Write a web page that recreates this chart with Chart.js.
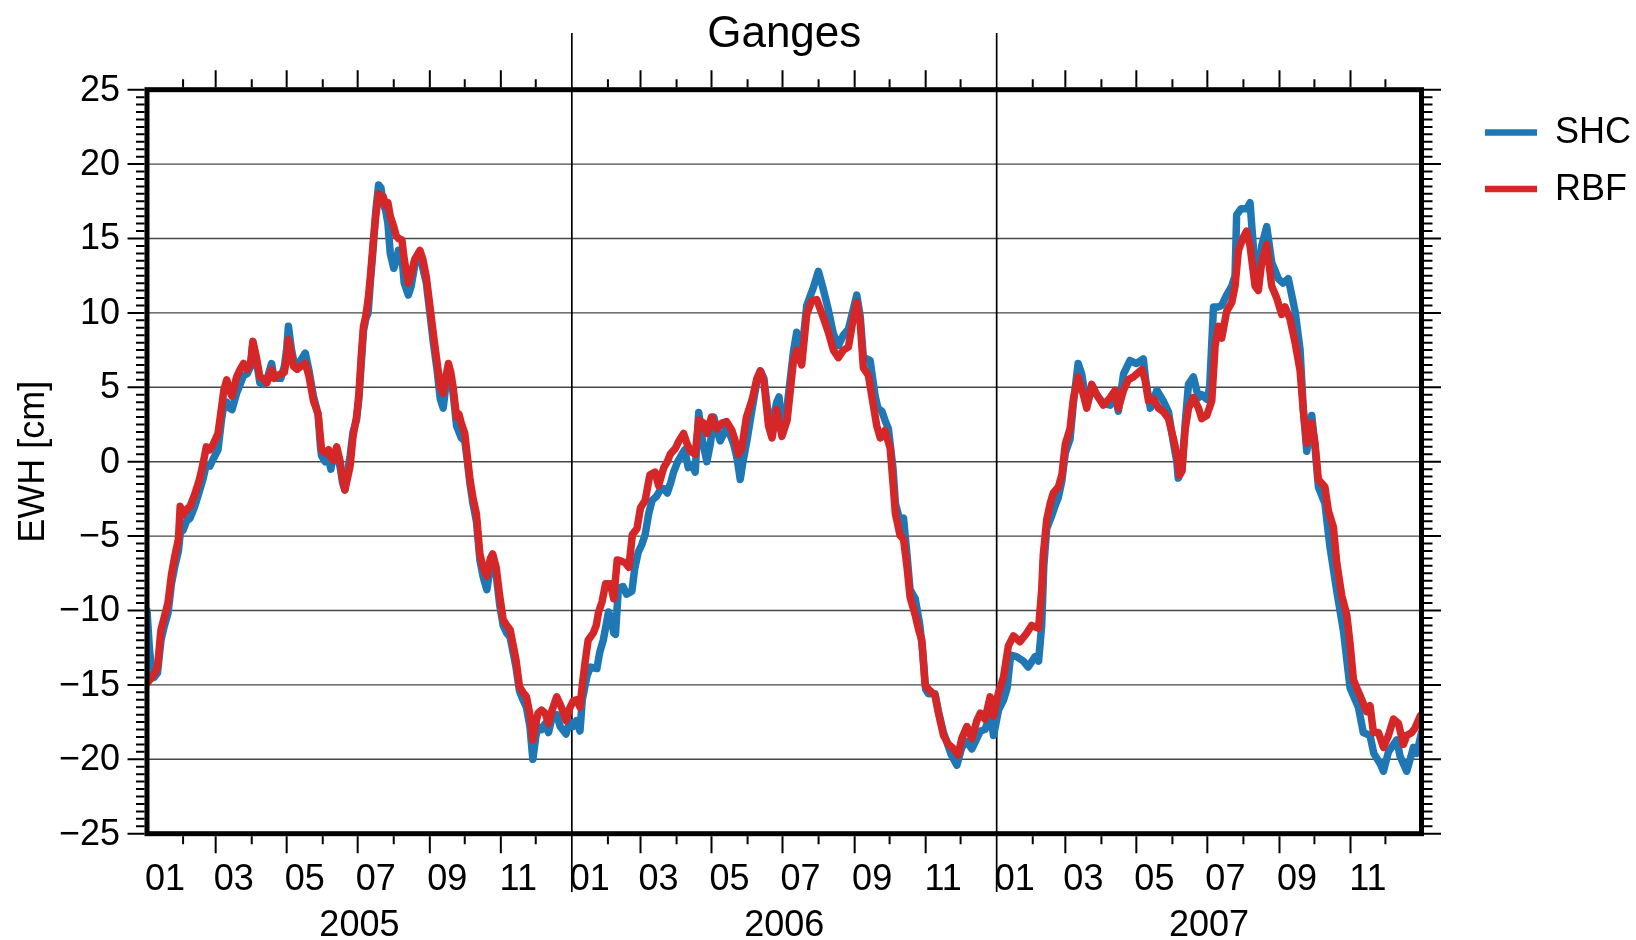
<!DOCTYPE html>
<html>
<head>
<meta charset="utf-8">
<title>Ganges EWH</title>
<script src="https://cdn.jsdelivr.net/npm/chart.js@4/dist/chart.umd.min.js"></script>
<style>
  html, body { margin: 0; padding: 0; background: #ffffff; }
  #wrap { width: 1636px; height: 940px; }
</style>
</head>
<body>
<div id="wrap"><canvas id="c" width="1636" height="940"></canvas></div>
<script>
// Equivalent water height [cm] over the Ganges basin, [day of year, value] pairs.
const shc2005 = [[0,-10.0],[2,-12.5],[4,-14.0],[6,-14.5],[9,-14.2],[12,-12.0],[15,-11.0],[18,-10.2],[21,-8.2],[24,-7.0],[27,-6.0],[29,-4.5],[31,-4.6],[34,-4.0],[37,-3.8],[41,-3.0],[45,-2.0],[48,-1.2],[51,-0.2],[54,-0.3],[57,0.2],[61,0.8],[64,2.8],[66,3.8],[68.5,4.0],[71,3.6],[73,3.5],[77,4.6],[80,5.2],[83,5.8],[86,5.9],[89,6.4],[91,8.0],[94,6.8],[97,5.3],[100,5.2],[103,5.5],[107,6.6],[109,5.7],[112,5.6],[115,5.6],[118,6.4],[120,7.6],[121.5,9.1],[124,7.6],[126,6.8],[129,6.6],[132,6.8],[136,7.3],[139,6.2],[143,4.4],[147,3.2],[149,1.0],[150,0.4],[153,0.0],[156,0.2],[158,-0.5],[160,0.5],[163,0.6],[166,-0.4],[168,-1.4],[170,-1.9],[172,-0.8],[174.5,0.4],[177,2.0],[180,2.8],[182,4.2],[184,6.5],[186,8.8],[188,9.6],[190,10.0],[192,12.2],[194.5,14.5],[196.5,16.8],[199,18.6],[201,18.4],[203,17.3],[205,16.9],[207,16.0],[209,14.0],[212,13.0],[214,13.5],[216,14.2],[219,13.8],[221,12.0],[224.5,11.2],[227,11.8],[230,13.2],[234.5,14.0],[237,13.0],[240,12.0],[243,10.0],[246,8.0],[249,6.3],[252,4.2],[254.5,3.6],[257,5.3],[259,6.0],[261,5.6],[263,4.6],[266,2.4],[268,2.0],[270,1.6],[273,1.4],[275,0.2],[277.5,-1.5],[280,-2.8],[283,-4.0],[286,-6.6],[289,-7.8],[292,-8.6],[295,-7.0],[297,-6.8],[300,-7.6],[303,-9.6],[306,-11.0],[309,-11.5],[312,-11.8],[315,-13.0],[317,-13.8],[320,-15.4],[323,-16.0],[326,-16.5],[329,-17.8],[331.5,-20.0],[334,-18.5],[336,-17.8],[339,-18.0],[342,-17.6],[345,-18.2],[348,-17.2],[352,-17.0],[355,-17.8],[357,-18.0],[360,-18.3],[363,-17.5]];
const shc2006 = [[1,-17.8],[4,-17.4],[7,-18.1],[9,-16.0],[13,-14.4],[16,-13.8],[21.5,-13.9],[24,-12.8],[27,-12.0],[31.5,-10.1],[34,-10.6],[36,-11.5],[37.5,-11.6],[40,-8.5],[44,-8.4],[47,-8.9],[51.6,-8.7],[54,-7.2],[57,-6.1],[60,-5.6],[63,-4.9],[66,-3.5],[69,-2.6],[73,-2.3],[76,-1.9],[79,-1.8],[82,-2.1],[85,-1.4],[87.4,-0.7],[91,0.0],[94.6,0.5],[97,0.8],[100,-0.4],[103,-0.2],[106,-0.7],[109,3.3],[112,1.5],[116,0.0],[119,1.2],[122,3.0],[125,2.0],[127.5,1.4],[130,1.8],[133,2.35],[136,1.8],[139,1.2],[142,0.2],[144.7,-1.2],[147,0.0],[150.4,1.4],[155,3.6],[159,5.4],[162,6.1],[165,5.6],[169,3.0],[172,2.4],[176,4.0],[178,4.35],[181,1.9],[185,3.75],[190.4,7.4],[193.2,8.7],[197.5,7.2],[201.8,10.5],[207.5,11.7],[211.8,12.8],[216,11.6],[220.4,10.2],[224.7,8.6],[229,7.8],[233.3,8.5],[237.6,8.9],[242,10.3],[244.8,11.2],[247.7,9.8],[250.5,7.0],[256.3,6.8],[260.6,4.4],[263,3.6],[266.3,3.4],[269,2.8],[272,2.2],[276,-0.5],[278,-2.8],[282,-4.0],[285,-3.8],[288,-6.3],[290.6,-8.6],[295,-9.2],[299,-11.0],[301.5,-12.8],[304,-15.3],[306.4,-15.6],[312,-15.6],[315,-16.8],[319.3,-18.2],[322,-18.8],[326,-19.7],[330.8,-20.4],[335,-19.2],[339.4,-18.8],[343.7,-19.3],[348,-18.6],[351,-18.1],[355,-18.0],[359.4,-17.0],[362.3,-18.4]];
const shc2007 = [[1.6,-16.7],[6,-16.0],[9,-15.2],[12,-13.0],[17,-13.1],[23,-13.4],[27,-13.8],[33,-13.1],[36,-13.4],[38.7,-11.0],[40.5,-7.0],[43,-4.5],[47,-3.7],[50,-3.0],[53,-2.4],[56,-1.3],[59,0.6],[63,1.5],[66,4.0],[70,6.6],[73,5.9],[77.4,3.8],[81.7,4.8],[86,4.5],[91.7,3.9],[97.5,3.8],[101.8,4.4],[104.6,3.4],[109,5.9],[114.6,6.8],[120,6.6],[126,6.9],[128,5.5],[132,3.6],[135,4.2],[137.6,4.8],[143,4.1],[147.6,3.35],[152,1.2],[154.8,0.0],[156,-1.1],[159.1,-0.6],[162,2.6],[164.8,5.2],[169,5.7],[173.4,4.3],[176.2,4.5],[180.5,4.2],[183,5.0],[186.3,10.4],[190,10.4],[193.3,10.5],[197.6,11.2],[202,11.8],[204.8,12.5],[206.2,16.6],[210,17.0],[214.8,17.0],[217.7,17.4],[220,15.0],[222,12.8],[224.8,12.5],[227.7,14.5],[232,15.8],[236.3,13.4],[242,12.3],[246,12.0],[250.6,12.3],[256.4,10.1],[260.7,7.5],[263.5,3.5],[266.4,0.7],[270.7,3.1],[273.5,1.0],[276.4,-1.7],[282,-2.8],[286.4,-5.75],[292.2,-8.7],[298,-11.4],[303.6,-15.2],[310.8,-16.5],[315,-18.2],[320.8,-18.4],[324,-19.6],[329.5,-20.3],[332.3,-20.8],[336.6,-19.5],[343.7,-18.7],[346.6,-19.8],[352.3,-20.8],[356,-19.8],[358,-19.2],[361,-19.6],[365,-18.2]];

const rbf2005 = [[0,-14.9],[3,-14.6],[6,-14.3],[9,-13.8],[12,-11.3],[15,-10.4],[18,-9.5],[21,-7.6],[24,-6.3],[27,-5.2],[28.5,-3.0],[31,-3.6],[34,-3.2],[37,-3.0],[41,-2.2],[45,-1.2],[48,-0.2],[51,1.0],[54,0.8],[57,1.2],[61,1.9],[64,3.6],[66,4.8],[68.5,5.5],[71,4.8],[73,4.4],[77,5.7],[80,6.2],[83,6.6],[86,6.2],[89,6.6],[91,8.1],[94,7.0],[97,5.7],[100,5.6],[103,5.3],[107,6.2],[109,5.6],[112,5.8],[115,5.9],[118,6.0],[120,7.0],[121.5,8.2],[124,7.2],[126,6.4],[129,6.2],[132,6.4],[136,6.6],[139,5.8],[143,4.1],[147,3.2],[149,1.6],[150,0.8],[153,0.6],[156,0.8],[158,0.3],[160,0.1],[163,1.0],[166,0.0],[168,-1.2],[170,-1.9],[172,-1.2],[174.5,-0.3],[177,1.7],[180,3.0],[182,4.5],[184,7.0],[186,9.1],[188,9.8],[190,10.9],[192,12.5],[194.5,14.9],[196.5,16.5],[199,18.0],[201,17.8],[203,17.8],[205,17.2],[207,17.4],[209,16.5],[212,15.8],[214,15.2],[216,15.0],[219,14.9],[221,13.6],[224.5,12.0],[227,12.6],[230,13.6],[234.5,14.2],[237,13.6],[240,12.4],[243,10.5],[246,8.6],[249,6.8],[252,5.0],[254.5,4.6],[257,5.8],[259,6.6],[261,6.0],[263,5.0],[266,3.0],[268,3.2],[270,2.6],[273,1.9],[275,0.5],[277.5,-1.2],[280,-2.4],[283,-3.5],[286,-6.2],[289,-7.2],[292,-7.7],[295,-6.5],[297,-6.2],[300,-7.1],[303,-9.0],[306,-10.6],[309,-11.0],[312,-11.3],[315,-12.5],[317,-13.3],[320,-15.1],[323,-15.5],[326,-15.8],[329,-17.0],[331.5,-18.7],[334,-17.6],[336,-16.9],[339,-16.7],[342,-16.9],[345,-17.6],[348,-16.7],[352,-15.8],[355,-16.3],[357,-16.7],[360,-17.4],[363,-16.6]];
const rbf2006 = [[1,-16.1],[4,-16.0],[7,-16.5],[9,-15.0],[11.5,-13.4],[14,-12.0],[18.5,-11.5],[21,-11.0],[23,-10.1],[26,-9.4],[29,-8.2],[33,-8.2],[36,-9.2],[39,-6.6],[43,-6.7],[46,-6.8],[49,-7.1],[52,-4.9],[56,-4.5],[59,-3.1],[63,-2.6],[67,-0.9],[71.5,-0.7],[74.5,-1.6],[79,-0.4],[82,0.0],[84.5,0.5],[89,0.9],[92,1.4],[96,1.9],[99,1.2],[102,0.7],[106,0.5],[109,2.8],[113,2.6],[116,1.9],[120,3.0],[124.5,2.2],[129,2.6],[133,2.7],[137.5,2.1],[140,1.5],[143,0.5],[146,0.9],[150,3.0],[155,4.2],[159,5.6],[162,6.1],[165,5.4],[169,2.4],[172,1.6],[176,3.5],[180.5,1.7],[185,2.8],[190.4,6.8],[193.2,7.5],[197.5,6.5],[201.8,9.9],[206,10.8],[210.4,10.9],[216,9.7],[220.4,8.7],[224.7,7.5],[229,7.0],[233.3,7.5],[237.6,7.7],[242,9.7],[244.8,10.7],[247.7,9.4],[250.5,6.3],[254.8,5.8],[259,3.8],[262,2.4],[265,1.6],[269,2.1],[273.5,0.9],[276,-1.5],[278,-3.5],[282,-4.95],[285,-5.2],[288,-7.1],[290.6,-9.1],[295,-10.3],[298,-11.3],[300.7,-12.0],[303.5,-15.0],[306.4,-15.3],[312,-15.7],[315,-16.9],[319.3,-18.4],[323.6,-19.0],[328,-19.3],[332,-19.7],[335,-18.6],[339.4,-17.8],[343.7,-18.6],[348,-17.4],[351,-16.9],[355,-17.3],[359.4,-15.8],[362.3,-17.1]];
const rbf2007 = [[1.6,-15.5],[5.8,-14.5],[10,-12.4],[14.4,-11.7],[20,-12.1],[26,-11.5],[30,-11.0],[36,-11.2],[38.7,-8.6],[40,-6.3],[43,-3.9],[46,-2.8],[48.7,-2.1],[53,-1.7],[56,-0.9],[59,1.2],[63,2.2],[66,4.3],[70,5.7],[74.5,4.5],[77.4,3.6],[81.7,5.2],[86,4.5],[91.7,3.8],[97.5,4.3],[101.8,4.8],[104.6,3.6],[109,4.8],[113,5.5],[117.5,5.7],[124.7,6.2],[127.5,5.5],[130.4,4.1],[134.7,4.2],[139,3.6],[143.3,3.35],[147.6,2.9],[152,1.5],[154.8,0.5],[157.1,-0.9],[159.1,-0.65],[162,2.2],[164.8,3.6],[169,4.3],[173.4,3.6],[176.2,2.9],[180.5,3.1],[184.8,4.1],[187.7,7.8],[190.5,9.1],[193.3,8.3],[197.6,10.1],[202,10.7],[204.8,11.8],[207.7,14.2],[212,15.1],[214.8,15.5],[217.7,14.5],[222,11.8],[224.8,11.5],[227.7,13.4],[232,14.6],[236.3,11.8],[240.6,11.0],[244.9,9.9],[247.8,10.4],[252,9.6],[256.4,8.0],[260.7,6.1],[263.5,3.4],[266.4,1.25],[270.7,2.6],[273.5,1.25],[276.4,-1.2],[282,-1.7],[285,-3.3],[289.3,-4.4],[292.2,-6.8],[296.5,-9.0],[300.8,-10.3],[303.6,-12.2],[306.5,-14.65],[309.4,-15.2],[313.7,-16.0],[318,-16.8],[320.8,-16.4],[323.7,-18.2],[328,-18.2],[332.3,-19.2],[336.6,-18.4],[340.9,-17.3],[345.2,-17.6],[349.5,-19.0],[352.3,-18.4],[356.6,-18.2],[359.5,-17.9],[363.8,-17.1],[365,-17.0]];

// Axis annotations
const years = [2005, 2006, 2007];
const monthLabels = ['01', '03', '05', '07', '09', '11'];
const yTickValues = [25, 20, 15, 10, 5, 0, -5, -10, -15, -20, -25];
const seriesNames = ['SHC', 'RBF'];
const seriesColors = ['#1f77b4', '#d62728'];

const DAY = 86400000;
const T0 = Date.UTC(2005, 0, 1);
const dayOffset = (y, m, d) => (Date.UTC(y, m - 1, d) - T0) / DAY;
const toPoints = (rows, year) => rows.map(([d, v]) => ({ x: dayOffset(year, 1, 1) + d, y: v }));

const shcPoints = [].concat(toPoints(shc2005, 2005), toPoints(shc2006, 2006), toPoints(shc2007, 2007));
const rbfPoints = [].concat(toPoints(rbf2005, 2005), toPoints(rbf2006, 2006), toPoints(rbf2007, 2007));

const FONT = '"Liberation Sans", Arial, Helvetica, sans-serif';
const minus = v => (v < 0 ? '\u2212' + Math.abs(v) : String(v));

const gmtDecor = {
  id: 'gmtDecor',
  beforeDatasetsDraw(chart) {
    const { ctx, chartArea: a, scales: { x, y } } = chart;
    ctx.save();
    // horizontal grid at every 5 cm
    ctx.strokeStyle = 'rgba(0,0,0,0.72)';
    ctx.lineWidth = 1.4;
    for (const v of yTickValues) {
      const py = y.getPixelForValue(v);
      ctx.beginPath(); ctx.moveTo(a.left, py); ctx.lineTo(a.right, py); ctx.stroke();
    }
    // year separators running through the frame
    ctx.strokeStyle = '#000';
    ctx.lineWidth = 1.7;
    for (const yr of years.slice(1)) {
      const px = x.getPixelForValue(dayOffset(yr, 1, 1));
      ctx.beginPath(); ctx.moveTo(px, 33); ctx.lineTo(px, 892); ctx.stroke();
    }
    ctx.restore();
  },
  afterDatasetsDraw(chart) {
    const { ctx, chartArea: a, scales: { x, y } } = chart;
    ctx.save();
    // thick frame
    const fw = 5;
    ctx.strokeStyle = '#000';
    ctx.lineWidth = fw;
    ctx.lineJoin = 'miter';
    ctx.strokeRect(a.left, a.top, a.right - a.left, a.bottom - a.top);

    // y ticks: major every 5, minor every 0.5, on both sides
    ctx.lineWidth = 2;
    for (let i = -50; i <= 50; i++) {
      const v = i / 2;
      const py = y.getPixelForValue(v);
      const len = (i % 10 === 0) ? 17 : 8.5;
      ctx.beginPath();
      ctx.moveTo(a.left - fw / 2, py); ctx.lineTo(a.left - fw / 2 - len, py);
      ctx.moveTo(a.right + fw / 2, py); ctx.lineTo(a.right + fw / 2 + len, py);
      ctx.stroke();
    }
    // x ticks: month starts, long on odd months
    for (const yr of years) {
      for (let m = 2; m <= 12; m++) {
        const px = x.getPixelForValue(dayOffset(yr, m, 1));
        const len = (m % 2 === 1) ? 17 : 8;
        ctx.beginPath();
        ctx.moveTo(px, a.top - fw / 2); ctx.lineTo(px, a.top - fw / 2 - len);
        ctx.moveTo(px, a.bottom + fw / 2); ctx.lineTo(px, a.bottom + fw / 2 + len);
        ctx.stroke();
      }
    }

    ctx.fillStyle = '#000';
    // y tick labels
    ctx.font = '36px ' + FONT;
    ctx.textAlign = 'right';
    ctx.textBaseline = 'middle';
    for (const v of yTickValues) ctx.fillText(minus(v), 120, y.getPixelForValue(v) + 1);

    // month and year labels
    ctx.textAlign = 'center';
    ctx.textBaseline = 'alphabetic';
    for (const yr of years) {
      monthLabels.forEach(lbl => {
        const m = parseInt(lbl, 10);
        const mid = (dayOffset(yr, m, 1) + dayOffset(yr, m + 1, 1)) / 2;
        ctx.fillText(lbl, x.getPixelForValue(mid), 890);
      });
      const yMid = (dayOffset(yr, 1, 1) + dayOffset(yr + 1, 1, 1)) / 2;
      ctx.fillText(String(yr), x.getPixelForValue(yMid), 936);
    }

    // axis title
    ctx.save();
    ctx.translate(44, (a.top + a.bottom) / 2);
    ctx.rotate(-Math.PI / 2);
    ctx.textAlign = 'center';
    ctx.textBaseline = 'alphabetic';
    ctx.fillText('EWH [cm]', 0, 0);
    ctx.restore();

    // title
    ctx.font = '44px ' + FONT;
    ctx.textAlign = 'center';
    ctx.fillText('Ganges', (a.left + a.right) / 2, 47);

    // legend
    ctx.font = '36px ' + FONT;
    ctx.textAlign = 'left';
    ctx.textBaseline = 'middle';
    const legY = [132.5, 189];
    chart.data.datasets.forEach((ds, i) => {
      ctx.strokeStyle = ds.borderColor;
      ctx.lineWidth = 6.5;
      ctx.lineCap = 'butt';
      ctx.beginPath(); ctx.moveTo(1485, legY[i]); ctx.lineTo(1537, legY[i]); ctx.stroke();
      ctx.fillStyle = '#000';
      ctx.fillText(ds.label, 1555, legY[i] + 1);
    });
    ctx.restore();
  }
};

new Chart(document.getElementById('c'), {
  type: 'line',
  data: {
    datasets: [
      { label: seriesNames[0], data: shcPoints, borderColor: seriesColors[0], borderWidth: 7.5, order: 1, clip: 0 },
      { label: seriesNames[1], data: rbfPoints, borderColor: seriesColors[1], borderWidth: 7.5, order: 0, clip: 0 }
    ]
  },
  options: {
    responsive: false,
    animation: false,
    devicePixelRatio: 1,
    parsing: false,
    layout: { padding: { left: 147, top: 89.7, right: 1636 - 1421.5, bottom: 940 - 833.7 } },
    elements: {
      point: { radius: 0 },
      line: { tension: 0, borderJoinStyle: 'round', borderCapStyle: 'round', fill: false }
    },
    plugins: { legend: { display: false }, title: { display: false }, tooltip: { enabled: false } },
    scales: {
      x: { type: 'linear', min: 0, max: 1095, display: false },
      y: { type: 'linear', min: -25, max: 25, display: false }
    }
  },
  plugins: [gmtDecor]
});
</script>
</body>
</html>
